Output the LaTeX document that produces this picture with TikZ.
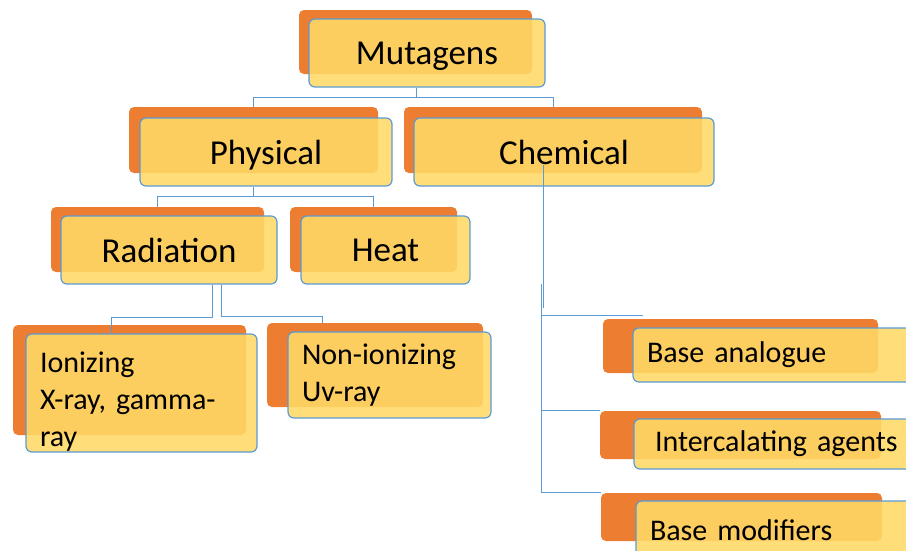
\documentclass[tikz,border=0pt]{standalone}
\usepackage{fontspec}
\setmainfont{Carlito}
\usetikzlibrary{positioning,calc}
\definecolor{backorange}{HTML}{ED7D31}
\definecolor{frontgold}{HTML}{FFD966}
\definecolor{linkblue}{HTML}{5B9BD5}
\tikzset{
  back/.style={rectangle, rounded corners=5pt, fill=backorange,
               draw=none, inner sep=0pt},
  card/.style={rectangle, rounded corners=6pt, fill=frontgold,
               fill opacity=0.88, text opacity=1, draw=linkblue,
               line width=1.2pt, inner sep=0pt},
  front/.style={card, align=center, text depth=0pt,
                font=\fontsize{35}{42}\selectfont},
  leaf/.style={card, align=left, inner xsep=14pt,
               font=\fontsize{30}{37}\selectfont},
  conn/.style={draw=linkblue, line width=1pt}
}

\begin{document}
\begin{tikzpicture}[x=1pt, y=-1pt]
  \useasboundingbox (0,0) rectangle (906,550);
  \clip (0,0) rectangle (906,550);

  % Root
  \node[back, minimum width=233pt, minimum height=64pt] (mutB) at (415.5,42) {};
  \node[front, minimum width=236pt, minimum height=68pt] (mut) at (427,53) {Mutagens};

  % First level
  \node[back, minimum width=249pt, minimum height=66pt] (physB) at (253.5,140) {};
  \node[front, minimum width=252pt, minimum height=68pt] (phys) at (266,152) {Physical};
  \node[back, minimum width=298pt, minimum height=66pt] (chemB) at (553,140) {};
  \node[front, minimum width=300pt, minimum height=68pt] (chem) at (564,152) {Chemical};

  % Physical branch
  \node[back, minimum width=213pt, minimum height=65pt] (radB) at (157.5,239.5) {};
  \node[front, minimum width=216pt, minimum height=68pt] (rad) at (169,250) {Radiation};
  \node[back, minimum width=167pt, minimum height=65pt] (heatB) at (373.5,239.5) {};
  \node[front, minimum width=169pt, minimum height=68pt] (heat) at (385.5,250) {Heat};

  % Radiation leaves
  \node[back, minimum width=233pt, minimum height=110pt] (ionB) at (129.5,380) {};
  \node[leaf, text width=203pt, minimum height=118pt, text height=38pt] (ion)
       at (141.5,393) {Ionizing\\X-ray, gamma-\\ray};
  \node[back, minimum width=216pt, minimum height=84pt] (nonB) at (375,365) {};
  \node[leaf, text width=175pt, minimum height=86pt] (non)
       at (389.5,375) {Non-ionizing\\Uv-ray};

  % Chemical leaves
  \node[back, minimum width=275pt, minimum height=54pt] (baB) at (740.5,346) {};
  \node[leaf, text width=259pt, minimum height=54pt] (ba) at (776.5,355) {Base analogue};
  \node[back, minimum width=281pt, minimum height=48pt] (icB) at (740.5,435) {};
  \node[leaf, text width=258pt, minimum height=50pt] (ic)
       at (777,444) {\hspace*{7pt}Intercalating agents};
  \node[back, minimum width=281pt, minimum height=48pt] (bmB) at (741.5,517) {};
  \node[leaf, text width=256pt, minimum height=59pt] (bm) at (778,530.5) {Base modifiers};

  % Connectors
  \draw[conn] ([xshift=-11pt]mut.south) -- ++(0,10) coordinate (mutJ);
  \draw[conn] (mutJ) -| (physB.north);
  \draw[conn] (mutJ) -| (chemB.north);

  \draw[conn] (physB.south |- phys.south) -- ++(0,10) coordinate (physJ);
  \draw[conn] (physJ) -| (radB.north);
  \draw[conn] (physJ) -| (heatB.north);

  \draw[conn] ([xshift=43pt]rad.south) -- ++(0,33) -| ([xshift=-30pt]ion.north);
  \draw[conn] ([xshift=52pt]rad.south) -- ++(0,32) -| ([xshift=-53pt]nonB.north);

  \draw[conn, line width=0.6pt] ([xshift=-21pt,yshift=-13pt]chem.center) -- ++(0,143);
  \coordinate (chemJ) at ([xshift=-23pt,yshift=-97pt]chem.south);
  \draw[conn] (chemJ) |- ([xshift=40pt,yshift=3pt]baB.north west);
  \draw[conn] (chemJ) |- (icB.north west);
  \draw[conn] (chemJ) |- (bmB.north west);
\end{tikzpicture}
\end{document}
